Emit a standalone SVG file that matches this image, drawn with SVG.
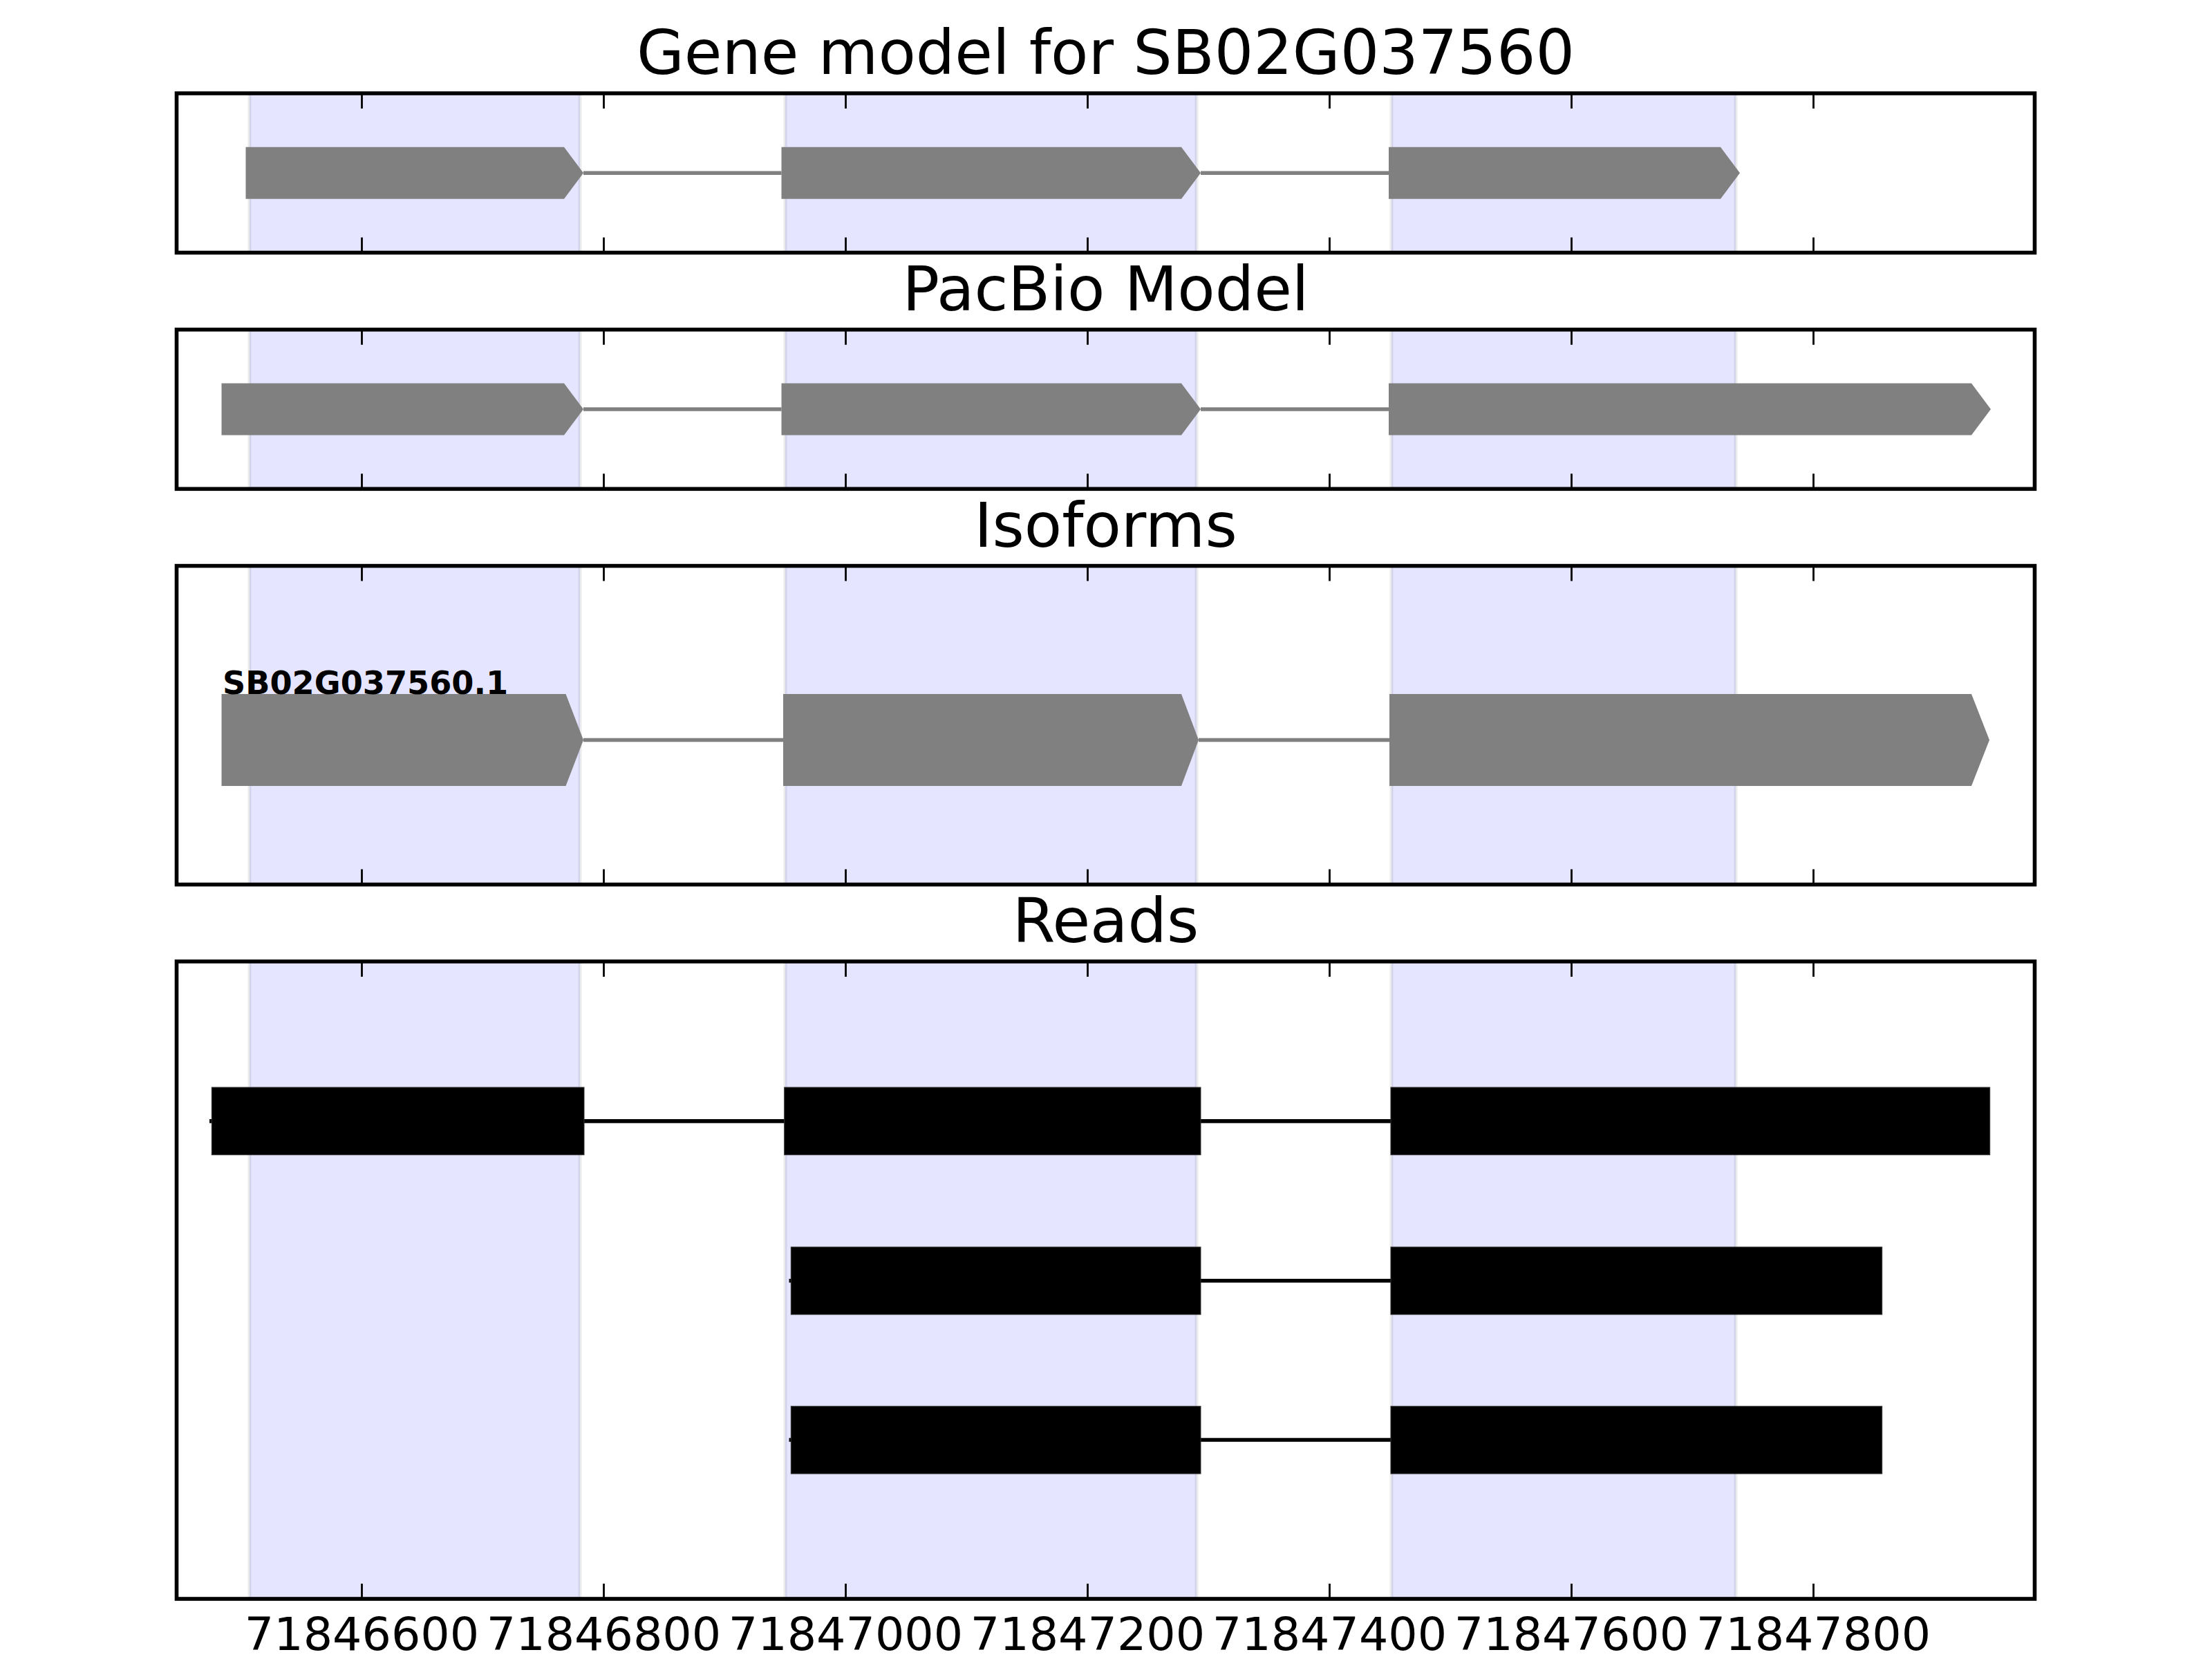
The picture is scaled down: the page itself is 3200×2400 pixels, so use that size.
<svg xmlns="http://www.w3.org/2000/svg" width="3200" height="2400" viewBox="0 0 3200 2400">
<style>
.title{font-family:"DejaVu Sans","Liberation Sans",sans-serif;font-size:88.9px;fill:#000;text-anchor:middle}
.tick{font-family:"DejaVu Sans","Liberation Sans",sans-serif;font-size:66.7px;fill:#000;text-anchor:middle}
.lbl{font-family:"DejaVu Sans","Liberation Sans",sans-serif;font-size:46.2px;font-weight:bold;fill:#000}
.shade{fill:#0000ff;fill-opacity:0.1;stroke:#000;stroke-opacity:0.08;stroke-width:5}
.frame{fill:none;stroke:#000;stroke-width:5.6}
.tk{stroke:#000;stroke-width:2.8}
.exon{fill:#808080}
.read{fill:#000;stroke:#333;stroke-width:1}
.intron{stroke:#808080;stroke-width:5.6;fill:none}
.rintron{stroke:#000;stroke-width:5.6;fill:none}
</style>
<rect x="0" y="0" width="3200" height="2400" fill="#fff"/>

<!-- shading -->
<g id="shading">
<rect class="shade" x="361" y="135" width="478" height="230.5"/>
<rect class="shade" x="1136" y="135" width="595" height="230.5"/>
<rect class="shade" x="2013" y="135" width="498" height="230.5"/>
<rect class="shade" x="361" y="476.8" width="478" height="230.5"/>
<rect class="shade" x="1136" y="476.8" width="595" height="230.5"/>
<rect class="shade" x="2013" y="476.8" width="498" height="230.5"/>
<rect class="shade" x="361" y="818.6" width="478" height="461"/>
<rect class="shade" x="1136" y="818.6" width="595" height="461"/>
<rect class="shade" x="2013" y="818.6" width="498" height="461"/>
<rect class="shade" x="361" y="1390.9" width="478" height="922.1"/>
<rect class="shade" x="1136" y="1390.9" width="595" height="922.1"/>
<rect class="shade" x="2013" y="1390.9" width="498" height="922.1"/>
</g>

<!-- connectors (introns) -->
<g id="connectors">
<line class="intron" x1="844" y1="250.3" x2="1130.5" y2="250.3"/>
<line class="intron" x1="1737" y1="250.3" x2="2009" y2="250.3"/>
<line class="intron" x1="844" y1="592" x2="1130.5" y2="592"/>
<line class="intron" x1="1737" y1="592" x2="2009" y2="592"/>
<line class="intron" x1="844" y1="1070.5" x2="1133" y2="1070.5"/>
<line class="intron" x1="1734" y1="1070.5" x2="2010" y2="1070.5"/>
<line class="rintron" x1="303" y1="1621.9" x2="2878" y2="1621.9"/>
<line class="rintron" x1="1141.5" y1="1852.8" x2="2722" y2="1852.8"/>
<line class="rintron" x1="1141.5" y1="2083" x2="2722" y2="2083"/>
</g>

<g id="gene-model">
<path class="exon" d="M355.5,212.8 H816 L844,250.3 L816,287.8 H355.5 Z"/>
<path class="exon" d="M1130.5,212.8 H1709 L1737,250.3 L1709,287.8 H1130.5 Z"/>
<path class="exon" d="M2009,212.8 H2489 L2517,250.3 L2489,287.8 H2009 Z"/>
</g>

<g id="pacbio-model">
<path class="exon" d="M320.5,554.5 H816 L844,592 L816,629.5 H320.5 Z"/>
<path class="exon" d="M1130.5,554.5 H1709 L1737,592 L1709,629.5 H1130.5 Z"/>
<path class="exon" d="M2009,554.5 H2852 L2880,592 L2852,629.5 H2009 Z"/>
</g>

<g id="isoform">
<path class="exon" d="M320.5,1004 H818.5 L844,1070.5 L818.5,1137 H320.5 Z"/>
<path class="exon" d="M1133,1004 H1709 L1734,1070.5 L1709,1137 H1133 Z"/>
<path class="exon" d="M2010,1004 H2852 L2878,1070.5 L2852,1137 H2010 Z"/>
<text class="lbl" x="322" y="1004">SB02G037560.1</text>
</g>

<g id="read-1">
<rect class="read" x="306.3" y="1573" width="538.7" height="97.7"/>
<rect class="read" x="1134.7" y="1573" width="602.3" height="97.7"/>
<rect class="read" x="2012" y="1573" width="866.7" height="97.7"/>
</g>
<g id="read-2">
<rect class="read" x="1144.3" y="1804" width="592.7" height="97.7"/>
<rect class="read" x="2012" y="1804" width="710.7" height="97.7"/>
</g>
<g id="read-3">
<rect class="read" x="1144.3" y="2034.3" width="592.7" height="97.7"/>
<rect class="read" x="2012" y="2034.3" width="710.7" height="97.7"/>
</g>

<!-- frames -->
<g id="frames">
<rect class="frame" x="255.5" y="135" width="2688" height="230.5"/>
<rect class="frame" x="255.5" y="476.8" width="2688" height="230.5"/>
<rect class="frame" x="255.5" y="818.6" width="2688" height="461"/>
<rect class="frame" x="255.5" y="1390.9" width="2688" height="922.1"/>
</g>

<!-- ticks -->
<g id="ticks">
<path class="tk" d="M523.5,135v22M873.5,135v22M1223.5,135v22M1573.5,135v22M1923.5,135v22M2273.5,135v22M2623.5,135v22
M523.5,365.5v-22M873.5,365.5v-22M1223.5,365.5v-22M1573.5,365.5v-22M1923.5,365.5v-22M2273.5,365.5v-22M2623.5,365.5v-22
M523.5,476.8v22M873.5,476.8v22M1223.5,476.8v22M1573.5,476.8v22M1923.5,476.8v22M2273.5,476.8v22M2623.5,476.8v22
M523.5,707.3v-22M873.5,707.3v-22M1223.5,707.3v-22M1573.5,707.3v-22M1923.5,707.3v-22M2273.5,707.3v-22M2623.5,707.3v-22
M523.5,818.6v22M873.5,818.6v22M1223.5,818.6v22M1573.5,818.6v22M1923.5,818.6v22M2273.5,818.6v22M2623.5,818.6v22
M523.5,1279.6v-22M873.5,1279.6v-22M1223.5,1279.6v-22M1573.5,1279.6v-22M1923.5,1279.6v-22M2273.5,1279.6v-22M2623.5,1279.6v-22
M523.5,1390.9v22M873.5,1390.9v22M1223.5,1390.9v22M1573.5,1390.9v22M1923.5,1390.9v22M2273.5,1390.9v22M2623.5,1390.9v22
M523.5,2313v-22M873.5,2313v-22M1223.5,2313v-22M1573.5,2313v-22M1923.5,2313v-22M2273.5,2313v-22M2623.5,2313v-22"/>
</g>

<g id="tick-labels">
<text class="tick" x="523.5" y="2387">71846600</text>
<text class="tick" x="873.5" y="2387">71846800</text>
<text class="tick" x="1223.5" y="2387">71847000</text>
<text class="tick" x="1573.5" y="2387">71847200</text>
<text class="tick" x="1923.5" y="2387">71847400</text>
<text class="tick" x="2273.5" y="2387">71847600</text>
<text class="tick" x="2623.5" y="2387">71847800</text>
</g>

<g id="titles">
<text class="title" x="1599.5" y="107.2">Gene model for SB02G037560</text>
<text class="title" x="1599.5" y="449">PacBio Model</text>
<text class="title" x="1599.5" y="790.8">Isoforms</text>
<text class="title" x="1599.5" y="1363.1">Reads</text>
</g>
</svg>
